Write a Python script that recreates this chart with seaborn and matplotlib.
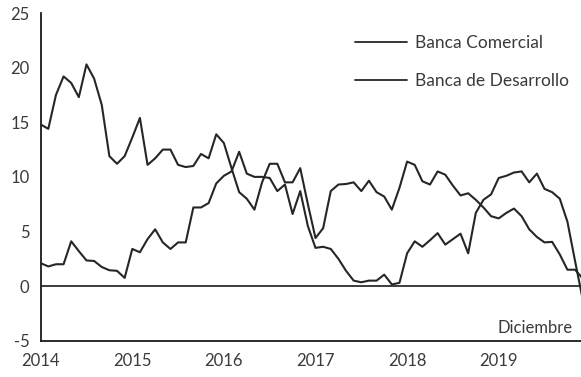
import numpy as np
import pandas as pd
import seaborn as sns
from matplotlib import pyplot as plt

# monthly series, Jan 2014 - Dec 2019
desarrollo = [14.8, 14.4, 17.5, 19.2, 18.6, 17.3, 20.3, 19.0, 16.6, 11.9, 11.2, 11.9,
              13.6, 15.4, 11.1, 11.7, 12.5, 12.5, 11.1, 10.9, 11.0, 12.1, 11.7, 13.9,
              13.1, 10.8, 8.6, 8.0, 7.0, 9.5, 11.2, 11.2, 9.5, 9.5, 10.8, 7.5,
              4.4, 5.3, 8.7, 9.3, 9.35, 9.5, 8.7, 9.65, 8.6, 8.2, 7.0, 9.0,
              11.4, 11.1, 9.6, 9.3, 10.5, 10.2, 9.2, 8.3, 8.5, 7.9, 7.2, 6.4,
              6.2, 6.7, 7.1, 6.4, 5.2, 4.5, 4.0, 4.05, 2.9, 1.5, 1.5, 0.7]
comercial = [2.1, 1.8, 2.0, 2.0, 4.1, 3.2, 2.35, 2.3, 1.75, 1.45, 1.4, 0.75,
             3.4, 3.1, 4.3, 5.2, 4.0, 3.4, 4.0, 4.0, 7.2, 7.2, 7.6, 9.4,
             10.1, 10.5, 12.3, 10.3, 10.0, 10.0, 9.9, 8.7, 9.3, 6.6, 8.7, 5.5,
             3.5, 3.6, 3.4, 2.5, 1.4, 0.5, 0.35, 0.5, 0.5, 1.05, 0.15, 0.3,
             3.0, 4.1, 3.6, 4.2, 4.85, 3.8, 4.3, 4.8, 3.0, 6.7, 7.9, 8.4,
             9.9, 10.1, 10.4, 10.5, 9.5, 10.3, 8.9, 8.6, 8.0, 5.9, 2.3, -1.2]
series_names = ['Banca Comercial', 'Banca de Desarrollo']
years = [2014, 2015, 2016, 2017, 2018, 2019]
yticks = [-5, 0, 5, 10, 15, 20, 25]

t = 2014 + np.arange(len(comercial)) / 12
df = pd.concat([
    pd.DataFrame({'t': t, 'val': comercial, 'serie': series_names[0]}),
    pd.DataFrame({'t': t, 'val': desarrollo, 'serie': series_names[1]}),
])

sns.set_style('white')
plt.rcParams['font.family'] = ['Lato', 'DejaVu Sans']
txt = '#3a3a3a'

fig = plt.figure(figsize=(5.81, 3.77), dpi=100)
ax = fig.add_axes([0.070, 0.0963, 0.935, 0.869])

sns.lineplot(data=df, x='t', y='val', hue='serie', hue_order=series_names,
             palette={series_names[0]: '#262626', series_names[1]: '#262626'},
             linewidth=1.5, ax=ax, legend=True)
ax.axhline(0, color='#1a1a1a', linewidth=1.2, zorder=1)

ax.set_xlim(2014, 2019.93)
ax.set_ylim(-5, 25)
ax.set_xticks(years)
ax.set_xticklabels([str(y) for y in years], fontsize=12, color=txt)
ax.set_yticks(yticks)
ax.set_yticklabels([str(y) for y in yticks], fontsize=12, color=txt)
ax.set_xlabel('')
ax.set_ylabel('')
for s in ['top', 'right']:
    ax.spines[s].set_visible(False)
for s in ['left', 'bottom']:
    ax.spines[s].set_color('#1a1a1a')
    ax.spines[s].set_linewidth(1.3)
ax.tick_params(axis='both', direction='out', length=5, width=1.1, color='#1a1a1a', pad=3)
ax.tick_params(axis='x', pad=4)

ax.text(2018.99, -3.8, 'Diciembre', fontsize=12, color=txt, ha='left', va='center')

leg = ax.legend(loc='upper left', bbox_to_anchor=(355 / 581, 1 - 35 / 377),
                bbox_transform=fig.transFigure, frameon=False, fontsize=12.5,
                handlelength=3.0, handletextpad=0.45, labelspacing=1.25,
                borderpad=0, borderaxespad=0)
for text in leg.get_texts():
    text.set_color(txt)
for line in leg.get_lines():
    line.set_linewidth(1.3)

fig.savefig('out.png', dpi=100)
